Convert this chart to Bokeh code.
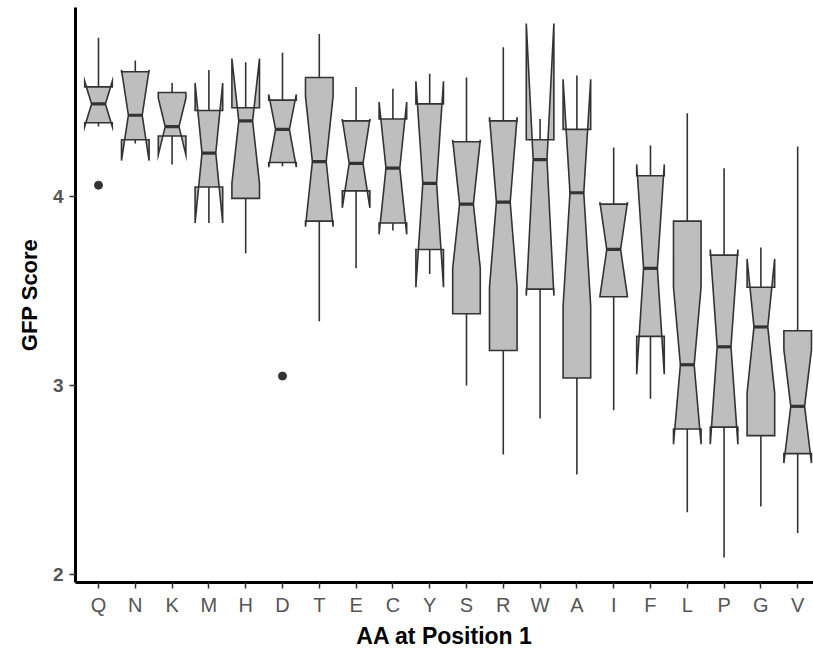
from bokeh.plotting import figure
from bokeh.models import FixedTicker, Range1d
from bokeh.embed import file_html
from bokeh.resources import INLINE

categories = ["Q", "N", "K", "M", "H", "D", "T", "E", "C", "Y",
              "S", "R", "W", "A", "I", "F", "L", "P", "G", "V"]
whisker_lo = [4.37, 4.28, 4.17, 3.86, 3.70, 4.16, 3.34, 3.62, 3.82, 3.59,
              3.00, 2.635, 2.825, 2.53, 2.87, 2.93, 2.33, 2.09, 2.36, 2.22]
q1 = [4.39, 4.30, 4.32, 4.05, 3.99, 4.18, 3.87, 4.03, 3.86, 3.72,
      3.38, 3.185, 3.51, 3.04, 3.47, 3.26, 2.77, 2.78, 2.735, 2.64]
notch_lo = [4.37, 4.19, 4.22, 3.86, 4.07, 4.155, 3.84, 3.94, 3.80, 3.52,
            3.62, 3.52, 3.475, 3.42, 3.47, 3.06, 2.69, 2.69, 2.96, 2.59]
median = [4.49, 4.43, 4.37, 4.23, 4.40, 4.355, 4.185, 4.175, 4.15, 4.07,
          3.96, 3.97, 4.195, 4.02, 3.72, 3.62, 3.11, 3.205, 3.31, 2.89]
notch_hi = [4.61, 4.67, 4.52, 4.60, 4.73, 4.54, 4.53, 4.41, 4.50, 4.61,
            4.30, 4.42, 4.915, 4.62, 3.97, 4.17, 3.52, 3.72, 3.67, 3.19]
q3 = [4.58, 4.66, 4.55, 4.455, 4.47, 4.51, 4.63, 4.40, 4.41, 4.49,
      4.29, 4.40, 4.30, 4.355, 3.96, 4.11, 3.87, 3.69, 3.52, 3.29]
whisker_hi = [4.84, 4.72, 4.60, 4.67, 4.71, 4.76, 4.86, 4.58, 4.57, 4.65,
              4.63, 4.79, 4.41, 4.64, 4.26, 4.27, 4.44, 4.15, 3.73, 4.265]
outlier_cat = ["Q", "D"]
outlier_val = [4.06, 3.05]
y_ticks = [2, 3, 4]

BOX_HALF = 0.375
NOTCH_HALF = 0.1875
FILL = "#bebebe"
EDGE = "#333333"
TICK_FONT = "Liberation Sans Narrow, Arial Narrow, Liberation Sans, sans-serif"

xs_idx = list(range(len(categories)))

p = figure(frame_width=738, frame_height=575,
           min_border_left=75, min_border_right=0, min_border_top=7, min_border_bottom=73,
           x_range=Range1d(-0.625, 19.43), y_range=Range1d(1.958, 5.0),
           output_backend="svg", toolbar_location=None, background_fill_color="white",
           border_fill_color="white")
p.outline_line_color = None
p.xgrid.grid_line_color = None
p.ygrid.grid_line_color = None

# whiskers
p.segment(x0=xs_idx, y0=q3, x1=xs_idx, y1=whisker_hi, line_color=EDGE, line_width=1.6)
p.segment(x0=xs_idx, y0=q1, x1=xs_idx, y1=whisker_lo, line_color=EDGE, line_width=1.6)

# notched boxes
poly_x, poly_y = [], []
for i in xs_idx:
    l, r = i - BOX_HALF, i + BOX_HALF
    nl, nr = i - NOTCH_HALF, i + NOTCH_HALF
    poly_x.append([l, l, nl, l, l, r, r, nr, r, r])
    poly_y.append([q1[i], notch_lo[i], median[i], notch_hi[i], q3[i],
                   q3[i], notch_hi[i], median[i], notch_lo[i], q1[i]])
p.patches(poly_x, poly_y, fill_color=FILL, line_color=EDGE, line_width=1.6,
          line_join="miter")

# medians
p.segment(x0=[i - NOTCH_HALF for i in xs_idx], y0=median,
          x1=[i + NOTCH_HALF for i in xs_idx], y1=median,
          line_color=EDGE, line_width=3.2)

# outliers
p.scatter(x=[categories.index(c) for c in outlier_cat], y=outlier_val,
          size=8, fill_color=EDGE, line_color=EDGE)

# axes
for ax in (p.xaxis[0], p.yaxis[0]):
    ax.axis_line_color = "black"
    ax.axis_line_width = 3
    ax.major_tick_line_color = EDGE
    ax.major_tick_line_width = 1.5
    ax.major_tick_out = 6
    ax.major_tick_in = 0
    ax.minor_tick_line_color = None
    ax.major_label_text_color = "#555555"
    ax.axis_label_text_color = "black"
    ax.axis_label_text_font_style = "bold"
    ax.axis_label_text_font = "Liberation Sans"

p.xaxis.ticker = FixedTicker(ticks=xs_idx)
p.xaxis.major_label_overrides = {i: c for i, c in enumerate(categories)}
p.xaxis.major_label_text_font = TICK_FONT
p.xaxis.major_label_text_font_size = "20px"
p.xaxis.major_label_standoff = 5
p.xaxis.axis_label = "AA at Position 1"
p.xaxis.axis_label_text_font_size = "23px"
p.xaxis.axis_label_standoff = 4

p.yaxis.ticker = FixedTicker(ticks=y_ticks)
p.yaxis.major_label_text_font = "Liberation Sans"
p.yaxis.major_label_text_font_style = "bold"
p.yaxis.major_label_text_font_size = "19px"
p.yaxis.major_label_standoff = 6
p.yaxis.axis_label = "GFP Score"
p.yaxis.axis_label_text_font_size = "22px"
p.yaxis.axis_label_standoff = 8

open("out.html", "w").write(file_html(p, INLINE))
